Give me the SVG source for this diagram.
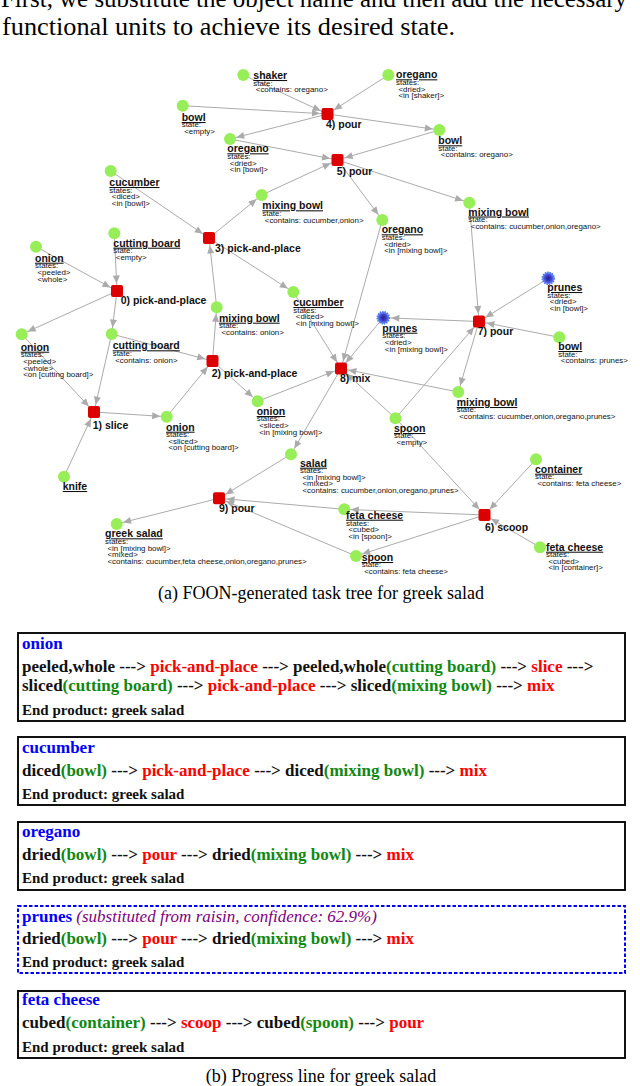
<svg xmlns="http://www.w3.org/2000/svg" width="640" height="1086" viewBox="0 0 640 1086">
<style>
.ed{stroke:#ababab;stroke-width:1;fill:none}
.ts{marker-end:url(#as)}
.tc{marker-end:url(#ac)}
.tp{marker-end:url(#ap)}
.g{fill:#98ee58}
.p{fill:url(#pg);stroke:#4a78f2;stroke-width:1.6;stroke-dasharray:1.4 1}
.a{fill:#dd0000}
.nm{font-family:"Liberation Sans",Arial,sans-serif;font-weight:bold;font-size:10.5px;text-decoration:underline;fill:#111}
.st{font-family:"Liberation Sans",Arial,sans-serif;font-size:7.9px;fill:#111}
.al{font-family:"Liberation Sans",Arial,sans-serif;font-weight:bold;font-size:10.5px;fill:#111}
.top{font-family:"Liberation Serif","Times New Roman",serif;font-size:26px;fill:#000}
.cap{font-family:"Liberation Serif","Times New Roman",serif;font-size:18px;fill:#000}
.bx{fill:none;stroke:#111;stroke-width:2}
.bxd{fill:none;stroke:#0000ff;stroke-width:2;stroke-dasharray:3.5 2}
.ln{font-family:"Liberation Serif","Times New Roman",serif;font-weight:bold;font-size:17px;fill:#111}
.ep{font-family:"Liberation Serif","Times New Roman",serif;font-weight:bold;font-size:15px;fill:#111}
.bl{fill:#0000ff}
.rd{fill:#ff0000}
.gr{fill:#118811}
.pu{fill:#800080;font-style:italic;font-weight:normal}
</style>
<defs>
<radialGradient id="pg" cx="0.5" cy="0.5" r="0.5">
<stop offset="0" stop-color="#2a1a8a"/>
<stop offset="0.55" stop-color="#3b45d0"/>
<stop offset="1" stop-color="#7a98ff"/>
</radialGradient>
<marker id="ac" markerUnits="userSpaceOnUse" markerWidth="20" markerHeight="10" refX="14.5" refY="3.5" orient="auto" overflow="visible"><path d="M0,0 L8,3.5 L0,7 z" fill="#ababab"/></marker>
<marker id="as" markerUnits="userSpaceOnUse" markerWidth="20" markerHeight="10" refX="15.5" refY="3.5" orient="auto" overflow="visible"><path d="M0,0 L8,3.5 L0,7 z" fill="#ababab"/></marker>
<marker id="ap" markerUnits="userSpaceOnUse" markerWidth="20" markerHeight="10" refX="16" refY="3.5" orient="auto" overflow="visible"><path d="M0,0 L8,3.5 L0,7 z" fill="#ababab"/></marker>
</defs>

<g id="intro-text">
<text class="top" x="1" y="7" textLength="626" lengthAdjust="spacingAndGlyphs">First, we substitute the object name and then add the necessary</text>
<text class="top" x="2" y="35" textLength="453" lengthAdjust="spacingAndGlyphs">functional units to achieve its desired state.</text>
</g>

<g id="connectors">
<line class="ed ts" x1="243.3" y1="75" x2="327.5" y2="114"/>
<line class="ed ts" x1="388.3" y1="75" x2="327.5" y2="114"/>
<line class="ed ts" x1="182.7" y1="105.7" x2="327.5" y2="114"/>
<line class="ed tc" x1="327.5" y1="114" x2="439.3" y2="130"/>
<line class="ed tc" x1="327.5" y1="114" x2="230" y2="139"/>
<line class="ed ts" x1="230" y1="139" x2="337.5" y2="160"/>
<line class="ed ts" x1="439.3" y1="130" x2="337.5" y2="160"/>
<line class="ed ts" x1="261.7" y1="195" x2="337.5" y2="160"/>
<line class="ed tc" x1="337.5" y1="160" x2="382.3" y2="220"/>
<line class="ed tc" x1="337.5" y1="160" x2="469.3" y2="202.7"/>
<line class="ed ts" x1="110.7" y1="171" x2="209" y2="238"/>
<line class="ed ts" x1="216.7" y1="307.3" x2="209" y2="238"/>
<line class="ed tc" x1="209" y1="238" x2="261.7" y2="195"/>
<line class="ed tc" x1="209" y1="238" x2="293.3" y2="292"/>
<line class="ed ts" x1="36" y1="246.7" x2="117" y2="291"/>
<line class="ed ts" x1="114.3" y1="233.3" x2="117" y2="291"/>
<line class="ed tc" x1="117" y1="291" x2="21.7" y2="334.3"/>
<line class="ed tc" x1="117" y1="291" x2="111.7" y2="334"/>
<line class="ed ts" x1="21.7" y1="334.3" x2="94" y2="412"/>
<line class="ed ts" x1="111.7" y1="334" x2="94" y2="412"/>
<line class="ed ts" x1="64" y1="476.7" x2="94" y2="412"/>
<line class="ed tc" x1="94" y1="412" x2="166.7" y2="416.7"/>
<line class="ed ts" x1="166.7" y1="416.7" x2="212.5" y2="361"/>
<line class="ed ts" x1="111.7" y1="334" x2="212.5" y2="361"/>
<line class="ed tc" x1="212.5" y1="361" x2="216.7" y2="307.3"/>
<line class="ed tc" x1="212.5" y1="361" x2="257.7" y2="401.3"/>
<line class="ed ts" x1="257.7" y1="401.3" x2="341" y2="368.5"/>
<line class="ed ts" x1="293.3" y1="292" x2="341" y2="368.5"/>
<line class="ed ts" x1="382.3" y1="220" x2="341" y2="368.5"/>
<line class="ed ts" x1="383.3" y1="317.7" x2="341" y2="368.5"/>
<line class="ed ts" x1="458.3" y1="392" x2="341" y2="368.5"/>
<line class="ed ts" x1="395.5" y1="418.3" x2="341" y2="368.5"/>
<line class="ed ts" x1="548.3" y1="278.3" x2="479" y2="321.5"/>
<line class="ed ts" x1="559.3" y1="337.3" x2="479" y2="321.5"/>
<line class="ed ts" x1="469.3" y1="202.7" x2="479" y2="321.5"/>
<line class="ed ts" x1="395.5" y1="418.3" x2="479" y2="321.5"/>
<line class="ed tp" x1="479" y1="321.5" x2="383.3" y2="317.7"/>
<line class="ed tc" x1="479" y1="321.5" x2="458.3" y2="392"/>
<line class="ed tc" x1="341" y1="368.5" x2="291" y2="454.2"/>
<line class="ed ts" x1="291" y1="454.2" x2="219" y2="498.3"/>
<line class="ed ts" x1="344.3" y1="509.3" x2="219" y2="498.3"/>
<line class="ed ts" x1="356" y1="556" x2="219" y2="498.3"/>
<line class="ed tc" x1="219" y1="498.3" x2="116.7" y2="524"/>
<line class="ed ts" x1="395.5" y1="418.3" x2="484.5" y2="515"/>
<line class="ed ts" x1="536" y1="459.3" x2="484.5" y2="515"/>
<line class="ed ts" x1="540" y1="547.3" x2="484.5" y2="515"/>
<line class="ed tc" x1="484.5" y1="515" x2="344.3" y2="509.3"/>
<line class="ed tc" x1="484.5" y1="515" x2="356" y2="556"/>
</g>

<g id="n-shaker"><circle class="g" cx="243.3" cy="75" r="6"/><text class="nm" x="253.3" y="79">shaker</text><text class="st" x="253.3" y="85.7">state:<tspan x="255.8" dy="6.7">&lt;contains: oregano&gt;</tspan></text></g>
<g id="n-oregano-shaker"><circle class="g" cx="388.3" cy="75" r="6"/><text class="nm" x="396" y="78.3">oregano</text><text class="st" x="396" y="85">states:<tspan x="398.5" dy="6.7">&lt;dried&gt;</tspan><tspan x="398.5" dy="6.7">&lt;in [shaker]&gt;</tspan></text></g>
<g id="n-bowl-empty"><circle class="g" cx="182.7" cy="105.7" r="6"/><text class="nm" x="181.7" y="121">bowl</text><text class="st" x="181.7" y="127">state:<tspan x="184.2" dy="6.7">&lt;empty&gt;</tspan></text></g>
<g id="n-bowl-oregano"><circle class="g" cx="439.3" cy="130" r="6"/><text class="nm" x="438.3" y="144.3">bowl</text><text class="st" x="438.3" y="150.7">state:<tspan x="440.8" dy="6.7">&lt;contains: oregano&gt;</tspan></text></g>
<g id="n-oregano-bowl"><circle class="g" cx="230" cy="139" r="6"/><text class="nm" x="227.3" y="152.3">oregano</text><text class="st" x="227.3" y="159">states:<tspan x="229.8" dy="6.7">&lt;dried&gt;</tspan><tspan x="229.8" dy="6.7">&lt;in [bowl]&gt;</tspan></text></g>
<g id="n-cucumber-bowl"><circle class="g" cx="110.7" cy="171" r="6"/><text class="nm" x="109.3" y="186">cucumber</text><text class="st" x="109.3" y="192.5">states:<tspan x="111.8" dy="6.7">&lt;diced&gt;</tspan><tspan x="111.8" dy="6.7">&lt;in [bowl]&gt;</tspan></text></g>
<g id="n-mixing-bowl-co"><circle class="g" cx="261.7" cy="195" r="6"/><text class="nm" x="262.3" y="209.3">mixing bowl</text><text class="st" x="262.3" y="216">state:<tspan x="264.8" dy="6.7">&lt;contains: cucumber,onion&gt;</tspan></text></g>
<g id="n-mixing-bowl-coo"><circle class="g" cx="469.3" cy="202.7" r="6"/><text class="nm" x="468.3" y="215.5">mixing bowl</text><text class="st" x="468.3" y="222">state:<tspan x="470.8" dy="6.7">&lt;contains: cucumber,onion,oregano&gt;</tspan></text></g>
<g id="n-oregano-mb"><circle class="g" cx="382.3" cy="220" r="6"/><text class="nm" x="381.7" y="233.3">oregano</text><text class="st" x="381.7" y="240">states:<tspan x="384.2" dy="6.7">&lt;dried&gt;</tspan><tspan x="384.2" dy="6.7">&lt;in [mixing bowl]&gt;</tspan></text></g>
<g id="n-cutting-board-empty"><circle class="g" cx="114.3" cy="233.3" r="6"/><text class="nm" x="113.3" y="246.7">cutting board</text><text class="st" x="113.3" y="253.3">state:<tspan x="115.8" dy="6.7">&lt;empty&gt;</tspan></text></g>
<g id="n-onion-pw"><circle class="g" cx="36" cy="246.7" r="6"/><text class="nm" x="35" y="261.7">onion</text><text class="st" x="35" y="268.3">states:<tspan x="37.5" dy="6.7">&lt;peeled&gt;</tspan><tspan x="37.5" dy="6.7">&lt;whole&gt;</tspan></text></g>
<g id="n-prunes-bowl"><circle class="p" cx="548.3" cy="278.3" r="6"/><text class="nm" x="547.3" y="291">prunes</text><text class="st" x="547.3" y="297.7">states:<tspan x="549.8" dy="6.7">&lt;dried&gt;</tspan><tspan x="549.8" dy="6.7">&lt;in [bowl]&gt;</tspan></text></g>
<g id="n-cucumber-mb"><circle class="g" cx="293.3" cy="292" r="6"/><text class="nm" x="293.3" y="306">cucumber</text><text class="st" x="293.3" y="312.5">states:<tspan x="295.8" dy="6.7">&lt;diced&gt;</tspan><tspan x="295.8" dy="6.7">&lt;in [mixing bowl]&gt;</tspan></text></g>
<g id="n-mixing-bowl-onion"><circle class="g" cx="216.7" cy="307.3" r="6"/><text class="nm" x="219" y="321.7">mixing bowl</text><text class="st" x="219" y="328.3">state:<tspan x="221.5" dy="6.7">&lt;contains: onion&gt;</tspan></text></g>
<g id="n-prunes-mb"><circle class="p" cx="383.3" cy="317.7" r="6"/><text class="nm" x="382.3" y="331.7">prunes</text><text class="st" x="382.3" y="338.3">states:<tspan x="384.8" dy="6.7">&lt;dried&gt;</tspan><tspan x="384.8" dy="6.7">&lt;in [mixing bowl]&gt;</tspan></text></g>
<g id="n-onion-cb"><circle class="g" cx="21.7" cy="334.3" r="6"/><text class="nm" x="20.7" y="350.7">onion</text><text class="st" x="20.7" y="357.3">states:<tspan x="23.2" dy="6.7">&lt;peeled&gt;</tspan><tspan x="23.2" dy="6.7">&lt;whole&gt;</tspan><tspan x="23.2" dy="6.7">&lt;on [cutting board]&gt;</tspan></text></g>
<g id="n-cutting-board-onion"><circle class="g" cx="111.7" cy="334" r="6"/><text class="nm" x="112.7" y="349.3">cutting board</text><text class="st" x="112.7" y="356">state:<tspan x="115.2" dy="6.7">&lt;contains: onion&gt;</tspan></text></g>
<g id="n-bowl-prunes"><circle class="g" cx="559.3" cy="337.3" r="6"/><text class="nm" x="558.3" y="350">bowl</text><text class="st" x="558.3" y="356.5">state:<tspan x="560.8" dy="6.7">&lt;contains: prunes&gt;</tspan></text></g>
<g id="n-mixing-bowl-coop"><circle class="g" cx="458.3" cy="392" r="6"/><text class="nm" x="456.7" y="406">mixing bowl</text><text class="st" x="456.7" y="412.3">state:<tspan x="459.2" dy="6.7">&lt;contains: cucumber,onion,oregano,prunes&gt;</tspan></text></g>
<g id="n-onion-mb"><circle class="g" cx="257.7" cy="401.3" r="6"/><text class="nm" x="256.7" y="415">onion</text><text class="st" x="256.7" y="421.3">states:<tspan x="259.2" dy="6.7">&lt;sliced&gt;</tspan><tspan x="259.2" dy="6.7">&lt;in [mixing bowl]&gt;</tspan></text></g>
<g id="n-spoon-empty"><circle class="g" cx="395.5" cy="418.3" r="6"/><text class="nm" x="394" y="432">spoon</text><text class="st" x="394" y="438.3">state:<tspan x="396.5" dy="6.7">&lt;empty&gt;</tspan></text></g>
<g id="n-onion-sliced-cb"><circle class="g" cx="166.7" cy="416.7" r="6"/><text class="nm" x="166" y="430.7">onion</text><text class="st" x="166" y="437">states:<tspan x="168.5" dy="6.7">&lt;sliced&gt;</tspan><tspan x="168.5" dy="6.7">&lt;on [cutting board]&gt;</tspan></text></g>
<g id="n-salad"><circle class="g" cx="291" cy="454.2" r="6"/><text class="nm" x="300" y="466.7">salad</text><text class="st" x="300" y="473">states:<tspan x="302.5" dy="6.7">&lt;in [mixing bowl]&gt;</tspan><tspan x="302.5" dy="6.7">&lt;mixed&gt;</tspan><tspan x="302.5" dy="6.7">&lt;contains: cucumber,onion,oregano,prunes&gt;</tspan></text></g>
<g id="n-knife"><circle class="g" cx="64" cy="476.7" r="6"/><text class="nm" x="62.7" y="490">knife</text></g>
<g id="n-container"><circle class="g" cx="536" cy="459.3" r="6"/><text class="nm" x="535" y="472.7">container</text><text class="st" x="535" y="479">state:<tspan x="537.5" dy="6.7">&lt;contains: feta cheese&gt;</tspan></text></g>
<g id="n-feta-spoon"><circle class="g" cx="344.3" cy="509.3" r="6"/><text class="nm" x="346" y="518.7">feta cheese</text><text class="st" x="346" y="525.5">states:<tspan x="348.5" dy="6.7">&lt;cubed&gt;</tspan><tspan x="348.5" dy="6.7">&lt;in [spoon]&gt;</tspan></text></g>
<g id="n-feta-container"><circle class="g" cx="540" cy="547.3" r="6"/><text class="nm" x="546" y="550.7">feta cheese</text><text class="st" x="546" y="557">states:<tspan x="548.5" dy="6.7">&lt;cubed&gt;</tspan><tspan x="548.5" dy="6.7">&lt;in [container]&gt;</tspan></text></g>
<g id="n-greek-salad"><circle class="g" cx="116.7" cy="524" r="6"/><text class="nm" x="105" y="537.3">greek salad</text><text class="st" x="105" y="544">states:<tspan x="107.5" dy="6.7">&lt;in [mixing bowl]&gt;</tspan><tspan x="107.5" dy="6.7">&lt;mixed&gt;</tspan><tspan x="107.5" dy="6.7">&lt;contains: cucumber,feta cheese,onion,oregano,prunes&gt;</tspan></text></g>
<g id="n-spoon-feta"><circle class="g" cx="356" cy="556" r="6"/><text class="nm" x="361.7" y="561">spoon</text><text class="st" x="361.7" y="567">state:<tspan x="364.2" dy="6.7">&lt;contains: feta cheese&gt;</tspan></text></g>

<g id="a0"><rect class="a" x="111" y="285" width="12" height="12" rx="2"/><text class="al" x="120.7" y="304.3">0) pick-and-place</text></g>
<g id="a1"><rect class="a" x="88" y="406" width="12" height="12" rx="2"/><text class="al" x="92.7" y="429">1) slice</text></g>
<g id="a2"><rect class="a" x="206.5" y="355" width="12" height="12" rx="2"/><text class="al" x="211.7" y="376.7">2) pick-and-place</text></g>
<g id="a3"><rect class="a" x="203" y="232" width="12" height="12" rx="2"/><text class="al" x="215" y="251.7">3) pick-and-place</text></g>
<g id="a4"><rect class="a" x="321.5" y="108" width="12" height="12" rx="2"/><text class="al" x="326" y="128.3">4) pour</text></g>
<g id="a5"><rect class="a" x="331.5" y="154" width="12" height="12" rx="2"/><text class="al" x="336.7" y="175">5) pour</text></g>
<g id="a6"><rect class="a" x="478.5" y="509" width="12" height="12" rx="2"/><text class="al" x="485" y="530.7">6) scoop</text></g>
<g id="a7"><rect class="a" x="473" y="315.5" width="12" height="12" rx="2"/><text class="al" x="477.7" y="335">7) pour</text></g>
<g id="a8"><rect class="a" x="335" y="362.5" width="12" height="12" rx="2"/><text class="al" x="340" y="381.7">8) mix</text></g>
<g id="a9"><rect class="a" x="213" y="492.3" width="12" height="12" rx="2"/><text class="al" x="219" y="511.7">9) pour</text></g>

<g id="caption-a"><text class="cap" x="321" y="599" text-anchor="middle">(a) FOON-generated task tree for greek salad</text></g>

<g id="box-onion">
<rect class="bx" x="18" y="633" width="607" height="88"/>
<text class="ln" x="22" y="648.5"><tspan class="bl">onion</tspan></text>
<text class="ln" x="22" y="671.5">peeled,whole ---&gt; <tspan class="rd">pick-and-place</tspan> ---&gt; peeled,whole<tspan class="gr">(cutting board)</tspan> ---&gt; <tspan class="rd">slice</tspan> ---&gt;</text>
<text class="ln" x="22" y="691">sliced<tspan class="gr">(cutting board)</tspan> ---&gt; <tspan class="rd">pick-and-place</tspan> ---&gt; sliced<tspan class="gr">(mixing bowl)</tspan> ---&gt; <tspan class="rd">mix</tspan></text>
<text class="ep" x="22" y="714.5">End product: greek salad</text>
</g>
<g id="box-cucumber">
<rect class="bx" x="18" y="737" width="607" height="68"/>
<text class="ln" x="22" y="752.5"><tspan class="bl">cucumber</tspan></text>
<text class="ln" x="22" y="775.5">diced<tspan class="gr">(bowl)</tspan> ---&gt; <tspan class="rd">pick-and-place</tspan> ---&gt; diced<tspan class="gr">(mixing bowl)</tspan> ---&gt; <tspan class="rd">mix</tspan></text>
<text class="ep" x="22" y="798.5">End product: greek salad</text>
</g>
<g id="box-oregano">
<rect class="bx" x="18" y="822" width="607" height="68"/>
<text class="ln" x="22" y="837"><tspan class="bl">oregano</tspan></text>
<text class="ln" x="22" y="860">dried<tspan class="gr">(bowl)</tspan> ---&gt; <tspan class="rd">pour</tspan> ---&gt; dried<tspan class="gr">(mixing bowl)</tspan> ---&gt; <tspan class="rd">mix</tspan></text>
<text class="ep" x="22" y="883.3">End product: greek salad</text>
</g>
<g id="box-prunes">
<rect class="bxd" x="18" y="906" width="607" height="67"/>
<text class="ln" x="22" y="921.5"><tspan class="bl">prunes</tspan> <tspan class="pu">(substituted from raisin, confidence: 62.9%)</tspan></text>
<text class="ln" x="22" y="943.5">dried<tspan class="gr">(bowl)</tspan> ---&gt; <tspan class="rd">pour</tspan> ---&gt; dried<tspan class="gr">(mixing bowl)</tspan> ---&gt; <tspan class="rd">mix</tspan></text>
<text class="ep" x="22" y="966.7">End product: greek salad</text>
</g>
<g id="box-feta">
<rect class="bx" x="18" y="991" width="607" height="67"/>
<text class="ln" x="22" y="1005"><tspan class="bl">feta cheese</tspan></text>
<text class="ln" x="22" y="1028.3">cubed<tspan class="gr">(container)</tspan> ---&gt; <tspan class="rd">scoop</tspan> ---&gt; cubed<tspan class="gr">(spoon)</tspan> ---&gt; <tspan class="rd">pour</tspan></text>
<text class="ep" x="22" y="1051.7">End product: greek salad</text>
</g>
<g id="caption-b"><text class="cap" x="321" y="1081.7" text-anchor="middle">(b) Progress line for greek salad</text></g>
</svg>
